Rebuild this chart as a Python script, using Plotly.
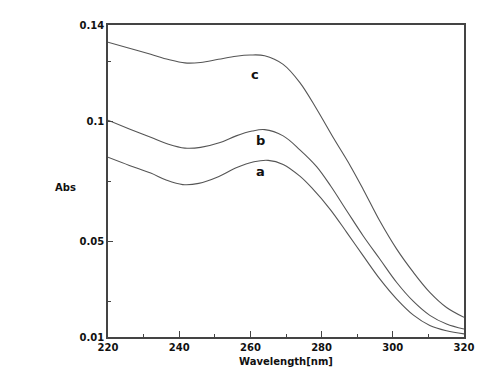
import plotly.graph_objects as go

wl_a = [220, 226, 232, 236.5, 241, 245.5, 251, 256, 261, 265, 269.2, 273.9, 277.2, 282.4, 287.1, 291.7, 296.4, 301.1, 305.8, 310.4, 315.1, 320]
abs_a = [0.0849, 0.0815, 0.0783, 0.0753, 0.0735, 0.0740, 0.0768, 0.0805, 0.0830, 0.0836, 0.0819, 0.0770, 0.0722, 0.0632, 0.0535, 0.0438, 0.0341, 0.0258, 0.0191, 0.0148, 0.0126, 0.0113]

wl_b = [220, 226, 232, 237, 241.6, 246, 251.5, 256, 260.5, 264, 269.2, 273.9, 278.6, 282.6, 287.1, 291.7, 296.4, 301.1, 305.8, 310.4, 315.1, 320]
abs_b = [0.1003, 0.0967, 0.0932, 0.0903, 0.0887, 0.0890, 0.0910, 0.0938, 0.0958, 0.0964, 0.0938, 0.0880, 0.0810, 0.0728, 0.0625, 0.0521, 0.0424, 0.0327, 0.0248, 0.0190, 0.0154, 0.0133]

wl_c = [220, 226, 232, 237, 241.6, 246, 251, 256, 260, 264, 269.2, 273.9, 278.6, 283.3, 288, 291.7, 296.4, 301.1, 305.8, 310.4, 315.1, 320]
abs_c = [0.1328, 0.1303, 0.1278, 0.1256, 0.1242, 0.1244, 0.1257, 0.1270, 0.1275, 0.1272, 0.1236, 0.1160, 0.1050, 0.0930, 0.0815, 0.0715, 0.0582, 0.0466, 0.0369, 0.0286, 0.0223, 0.0182]

labels = ["a", "b", "c"]
label_pos = [(262.7, 0.0790), (262.7, 0.0918), (261.3, 0.1192)]

x_ticks = [220, 240, 260, 280, 300, 320]
x_minor = [230, 250, 270, 290, 310]
y_ticks = [0.01, 0.05, 0.1, 0.14]
y_tick_text = ["0.01", "0.05", "0.1", "0.14"]
y_minor = [0.025, 0.075, 0.125]

line_col = "#555555"
axis_col = "#444444"
font = dict(family="DejaVu Sans", size=10, color="#111111", weight="bold")

fig = go.Figure()
for wl, ab in [(wl_a, abs_a), (wl_b, abs_b), (wl_c, abs_c)]:
    fig.add_trace(go.Scatter(x=wl, y=ab, mode="lines",
                             line=dict(color=line_col, width=1.1, shape="spline", smoothing=1.0),
                             showlegend=False, hoverinfo="skip"))

for lab, (lx, ly) in zip(labels, label_pos):
    fig.add_annotation(x=lx, y=ly, text=lab, showarrow=False,
                       font=dict(family="DejaVu Sans", size=13, color="#111111", weight="bold"))

L, R, T, B = 100, 42, 17, 55
W, H = 498, 384
pw, ph = W - L - R, H - T - B
fig.add_annotation(x=(57 - L) / pw, y=(329 - 180) / ph, xref="paper", yref="paper", text="Abs",
                   showarrow=False, font=font, xanchor="center", yanchor="middle")

fig.update_layout(
    width=W, height=H,
    margin=dict(l=L, r=R, t=T, b=B),
    paper_bgcolor="white", plot_bgcolor="white",
    xaxis=dict(range=[220, 320], tickvals=x_ticks, ticks="inside", ticklen=6, tickcolor=axis_col,
               showline=True, linecolor=axis_col, linewidth=1.5, mirror=True, showgrid=False, zeroline=False,
               tickfont=font, title=dict(text="Wavelength[nm]", font=font, standoff=6),
               minor=dict(tickvals=x_minor, ticks="inside", ticklen=3, tickcolor=axis_col)),
    yaxis=dict(range=[0.01, 0.14], tickvals=y_ticks, ticktext=y_tick_text, ticks="inside", ticklen=5, tickcolor=axis_col,
               showline=True, linecolor=axis_col, linewidth=1.5, mirror=True, showgrid=False, zeroline=False,
               tickfont=font,
               minor=dict(tickvals=y_minor, ticks="inside", ticklen=3, tickcolor=axis_col)),
)

fig.write_html("out.html")
